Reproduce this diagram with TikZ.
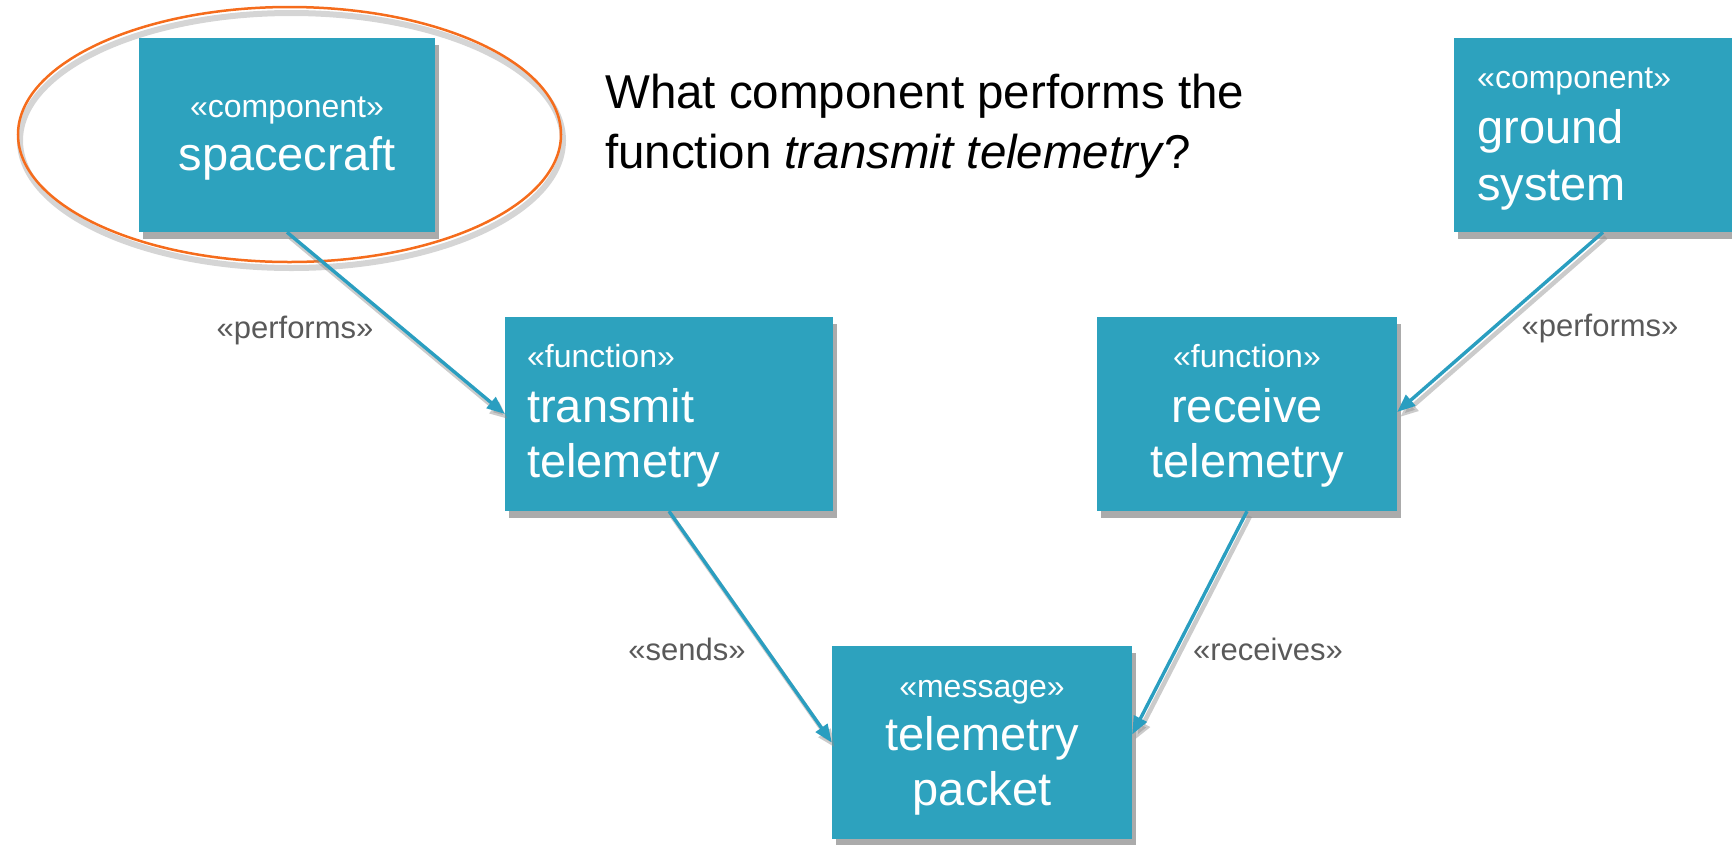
\documentclass[tikz,border=0pt]{standalone}
\usepackage{fontspec}
\setmainfont{Liberation Sans}
\usetikzlibrary{shapes.geometric,shadows,arrows.meta}
\definecolor{boxblue}{RGB}{45,162,190}
\definecolor{arrowblue}{RGB}{42,158,192}
\definecolor{hlorange}{RGB}{245,108,28}
\definecolor{labelgray}{RGB}{89,89,89}
\begin{document}
\begin{tikzpicture}[x=1pt,y=-1pt,
  box/.style={rectangle, fill=boxblue, inner sep=0pt, minimum height=194pt,
     drop shadow={shadow xshift=4pt, shadow yshift=-7pt, fill=black!55, opacity=.6}},
  stereo/.style={anchor=base, text=white, font=\fontsize{32}{38}\selectfont, inner sep=0pt},
  big/.style={anchor=base, text=white, font=\fontsize{47}{56}\selectfont, inner sep=0pt},
  lbl/.style={anchor=base, text=labelgray, font=\fontsize{31}{36}\selectfont, inner sep=0pt},
  question/.style={anchor=base west, text=black, font=\fontsize{47.5}{60}\selectfont, inner sep=0pt},
  conn/.style={draw=arrowblue, line width=3.4pt, -{Triangle[length=18pt,width=14pt]}},
  connshadow/.style={draw=black!45, opacity=.45, line width=4.5pt, -{Triangle[length=18pt,width=14pt]},
     transform canvas={xshift=3pt,yshift=-5pt}}
]
\useasboundingbox (0,0) rectangle (1732,844);
\clip (0,0) rectangle (1732,844);

% highlight ellipse (shadow + stroke)
\draw[black!30, line width=6pt, opacity=.55, transform canvas={xshift=2pt,yshift=-6pt}]
  (289.5,134.5) ellipse [x radius=271.5, y radius=127.5];

% boxes
\node[box, minimum width=296pt] (sc) at (287,135) {};
\node[box, minimum width=298pt] (gs) at (1603,135) {};
\node[box, minimum width=328pt] (tr) at (669,414) {};
\node[box, minimum width=300pt] (rc) at (1247,414) {};
\node[box, minimum width=300pt, minimum height=193pt] (pk) at (982,742.5) {};

\node[ellipse, draw=hlorange, line width=2.5pt, minimum width=543pt, minimum height=255pt, inner sep=0pt]
  (hl) at (289.5,134.5) {};

% box texts
\node[stereo] (sc-s) at (287,117) {«component»};
\node[big] (sc-n) at (287,170) {spacecraft};

\node[stereo, anchor=base west] (gs-s) at (1477,88) {«component»};
\node[big, anchor=base west] (gs-n1) at (1477,143) {ground};
\node[big, anchor=base west] (gs-n2) at (1477,200) {system};

\node[stereo, anchor=base west] (tr-s) at (527,367) {«function»};
\node[big, anchor=base west] (tr-n1) at (527,422) {transmit};
\node[big, anchor=base west] (tr-n2) at (527,477) {telemetry};

\node[stereo] (rc-s) at (1247,367) {«function»};
\node[big] (rc-n1) at (1247,422) {receive};
\node[big] (rc-n2) at (1247,477) {telemetry};

\node[stereo] (pk-s) at (982,697) {«message»};
\node[big] (pk-n1) at (982,750) {telemetry};
\node[big] (pk-n2) at (982,805) {packet};

% question
\node[question] (q1) at (605,108) {What component performs the};
\node[question] (q2) at (605,168) {function \textit{transmit telemetry}?};

% connector shadows
\draw[connshadow] (sc.south) -- (tr.west);
\draw[connshadow] (tr.south) -- (pk.west);
\draw[connshadow] (rc.south) -- ([yshift=8pt]pk.east);
\draw[connshadow] (gs.south) -- ([yshift=2pt]rc.east);

% connectors
\draw[conn] (sc.south) -- (tr.west);
\draw[conn] (tr.south) -- (pk.west);
\draw[conn] (rc.south) -- ([yshift=8pt]pk.east);
\draw[conn] (gs.south) -- ([yshift=2pt]rc.east);

% connector labels
\node[lbl] (l1) at (295,338) {«performs»};
\node[lbl] (l2) at (1600,336) {«performs»};
\node[lbl] (l3) at (687,660) {«sends»};
\node[lbl] (l4) at (1268,660) {«receives»};
\end{tikzpicture}
\end{document}
